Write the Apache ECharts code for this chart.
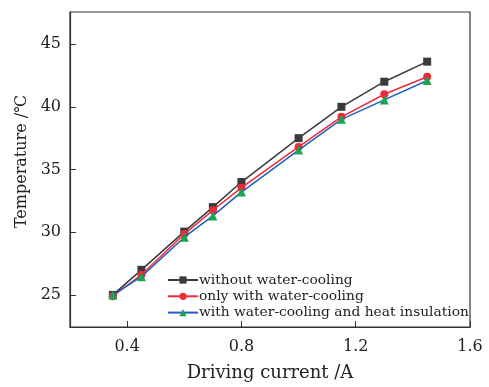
<!DOCTYPE html>
<html>
<head>
<meta charset="utf-8">
<script src="https://cdn.jsdelivr.net/npm/echarts@6/dist/echarts.min.js"></script>
<style>
  html, body { margin: 0; padding: 0; background: #fff; }
  #chart { width: 489px; height: 387px; }
</style>
</head>
<body>
<div id="chart"></div>
<script>
// driving current (A)
const current = [0.35, 0.45, 0.6, 0.7, 0.8, 1.0, 1.15, 1.3, 1.45]
// temperature (°C) per condition
const noCooling = [25.0, 27.0, 30.05, 32.0, 34.0, 37.5, 40.0, 42.0, 43.6]
const waterCooling = [24.9, 26.6, 29.85, 31.75, 33.55, 36.8, 39.2, 41.0, 42.4]
const coolingInsulation = [25.0, 26.45, 29.6, 31.3, 33.2, 36.55, 39.0, 40.55, 42.1]

const names = [
  'without water-cooling',
  'only with water-cooling',
  'with water-cooling and heat insulation',
]
const xTicks = [0.4, 0.8, 1.2, 1.6]
const yTicks = [25, 30, 35, 40, 45]

const font = 'DejaVu Serif'
const axisColor = '#333'

const pairs = (ys) => current.map((x, i) => [x, ys[i]])

const chart = echarts.init(document.getElementById('chart'))

const option = {
  animation: false,
  textStyle: { fontFamily: font },
  grid: {
    left: 70,
    top: 12,
    right: 19,
    bottom: 51,
    show: true,
    borderColor: axisColor,
    borderWidth: 1.2,
  },
  legend: {
    left: 162,
    top: 268,
    orient: 'vertical',
    itemWidth: 30,
    itemHeight: 9,
    itemGap: 2.3,
    textStyle: { fontFamily: font, fontSize: 13.8, color: '#222', padding: [0, 0, 0, -4] },
    data: names,
  },
  xAxis: {
    type: 'value',
    min: 0.2,
    max: 1.6,
    name: 'Driving current /A',
    nameLocation: 'middle',
    nameGap: 37,
    nameTextStyle: { fontFamily: font, fontSize: 18, color: '#222' },
    axisLine: { lineStyle: { color: axisColor, width: 1.2 } },
    axisTick: { inside: true, length: 6, lineStyle: { color: axisColor }, customValues: xTicks },
    axisLabel: {
      fontFamily: font,
      fontSize: 16,
      color: '#222',
      margin: 12,
      customValues: xTicks,
      formatter: (v) => v.toFixed(1),
    },
    splitLine: { show: false },
  },
  yAxis: {
    type: 'value',
    min: 22.44,
    max: 47.56,
    name: 'Temperature /℃',
    nameLocation: 'middle',
    nameGap: 40,
    nameTextStyle: { fontFamily: font, fontSize: 16, color: '#222', padding: [0, 0, 0, 16] },
    axisLine: { lineStyle: { color: axisColor, width: 1.2 } },
    axisTick: {
      inside: true,
      length: 6,
      lineStyle: { color: axisColor },
      customValues: yTicks,
    },
    axisLabel: {
      fontFamily: font,
      fontSize: 16,
      color: '#222',
      margin: 9,
      customValues: yTicks,
    },
    splitLine: { show: false },
  },
  series: [
    {
      name: names[0],
      type: 'line',
      data: pairs(noCooling),
      symbol: 'rect',
      symbolSize: 8,
      lineStyle: { color: '#3a3a3a', width: 1.5 },
      itemStyle: { color: '#3a3a3a' },
      z: 3,
    },
    {
      name: names[1],
      type: 'line',
      data: pairs(waterCooling),
      symbol: 'circle',
      symbolSize: 8,
      lineStyle: { color: '#ee2a3a', width: 1.5 },
      itemStyle: { color: '#ee2a3a' },
      z: 4,
    },
    {
      name: names[2],
      type: 'line',
      data: pairs(coolingInsulation),
      symbol: 'triangle',
      symbolSize: 9,
      lineStyle: { color: '#1f5fc0', width: 1.5 },
      itemStyle: { color: '#1ca352' },
      z: 5,
    },
  ],
}

chart.setOption(option)
</script>
</body>
</html>
